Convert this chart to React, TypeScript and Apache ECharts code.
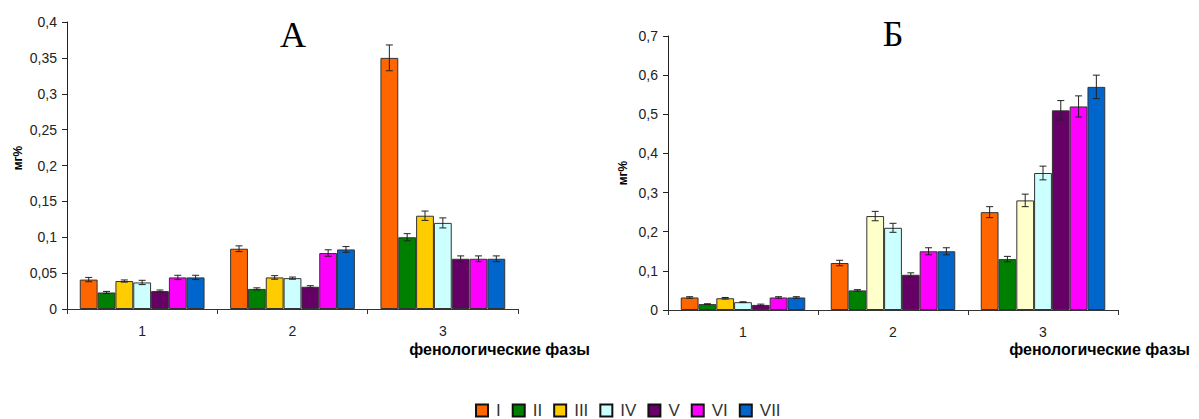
import React, { useEffect, useRef } from "react";
import * as echarts from "echarts";

// Phenological phases on the category axis
const phases = ["1", "2", "3"];
const seriesNames = ["I", "II", "III", "IV", "V", "VI", "VII"];
const seriesColors = ["#FF6600", "#008000", "#FFCC00", "#CCFFFF", "#660066", "#FF00FF", "#0066CC"];
// Pale fill used for series III in phases 2 and 3 of panel Б
const paleIII = "#FFFFCC";

// Panel А: content, mg% (one array per variant, values by phase)
const aI = [0.041, 0.084, 0.35];
const aII = [0.023, 0.028, 0.1];
const aIII = [0.039, 0.044, 0.13];
const aIV = [0.037, 0.043, 0.12];
const aV = [0.025, 0.031, 0.07];
const aVI = [0.044, 0.078, 0.07];
const aVII = [0.044, 0.083, 0.07];
// Panel А: error margins
const aErrI = [0.003, 0.004, 0.018];
const aErrII = [0.0015, 0.0015, 0.005];
const aErrIII = [0.0015, 0.0025, 0.0065];
const aErrIV = [0.003, 0.0015, 0.007];
const aErrV = [0.0015, 0.0015, 0.004];
const aErrVI = [0.003, 0.0045, 0.004];
const aErrVII = [0.003, 0.004, 0.004];

// Panel Б: content, mg%
const bI = [0.032, 0.12, 0.25];
const bII = [0.015, 0.05, 0.13];
const bIII = [0.03, 0.24, 0.28];
const bIV = [0.02, 0.21, 0.35];
const bV = [0.013, 0.09, 0.51];
const bVI = [0.032, 0.15, 0.52];
const bVII = [0.032, 0.15, 0.57];
// Panel Б: error margins
const bErrI = [0.002, 0.007, 0.014];
const bErrII = [0.001, 0.002, 0.007];
const bErrIII = [0.002, 0.012, 0.016];
const bErrIV = [0.001, 0.0115, 0.0175];
const bErrV = [0.002, 0.005, 0.025];
const bErrVI = [0.002, 0.009, 0.027];
const bErrVII = [0.002, 0.009, 0.03];

// Y-axis ticks
const aTicks = { min: 0, max: 0.4, interval: 0.05 };
const bTicks = { min: 0, max: 0.7, interval: 0.1 };

const aValues = [aI, aII, aIII, aIV, aV, aVI, aVII];
const aErrors = [aErrI, aErrII, aErrIII, aErrIV, aErrV, aErrVI, aErrVII];
const bValues = [bI, bII, bIII, bIV, bV, bVI, bVII];
const bErrors = [bErrI, bErrII, bErrIII, bErrIV, bErrV, bErrVI, bErrVII];

const CAT_GAP = 0.17;
const FONT = "Arial, 'Liberation Sans', sans-serif";

const fmt = (v: number) => String(+v.toFixed(2)).replace(".", ",");

function buildSeries(panel: number, values: number[][], errors: number[][]) {
  const out: any[] = [];
  values.forEach((vals, i) => {
    out.push({
      type: "bar",
      name: seriesNames[i],
      xAxisIndex: panel,
      yAxisIndex: panel,
      barGap: "0%",
      barCategoryGap: `${CAT_GAP * 100}%`,
      itemStyle: { color: seriesColors[i], borderColor: "#333", borderWidth: 1 },
      data: vals.map((v, k) =>
        panel === 1 && i === 2 && k > 0 ? { value: v, itemStyle: { color: paleIII } } : v
      ),
    });
  });
  values.forEach((vals, i) => {
    out.push({
      type: "custom",
      name: `err-${panel}-${seriesNames[i]}`,
      xAxisIndex: panel,
      yAxisIndex: panel,
      z: 5,
      silent: true,
      encode: { x: 0, y: 1 },
      data: vals.map((v, k) => [k, v, errors[i][k]]),
      renderItem: (params: any, api: any) => {
        const cat = api.value(0);
        const v = api.value(1);
        const e = api.value(2);
        const band = api.size([1, 0])[0];
        const groupW = band * (1 - CAT_GAP);
        const bw = groupW / values.length;
        const cx = api.coord([cat, v])[0] - groupW / 2 + bw * (i + 0.5);
        const yTop = api.coord([cat, v + e])[1];
        const yBot = api.coord([cat, v - e])[1];
        const cap = 3.5;
        const style = { stroke: "#222", lineWidth: 1 };
        return {
          type: "group",
          children: [
            { type: "line", shape: { x1: cx, y1: yTop, x2: cx, y2: yBot }, style },
            { type: "line", shape: { x1: cx - cap, y1: yTop, x2: cx + cap, y2: yTop }, style },
            { type: "line", shape: { x1: cx - cap, y1: yBot, x2: cx + cap, y2: yBot }, style },
          ],
        };
      },
    });
  });
  return out;
}

function xAxis(gridIndex: number) {
  return {
    type: "category",
    gridIndex,
    data: phases,
    axisLine: { lineStyle: { color: "#333", width: 1 } },
    axisTick: { show: true, length: 5, lineStyle: { color: "#333" } },
    axisLabel: { color: "#222", fontSize: 14, fontFamily: FONT, margin: 15 },
  };
}

function yAxis(gridIndex: number, t: { min: number; max: number; interval: number }) {
  return {
    type: "value",
    gridIndex,
    min: t.min,
    max: t.max,
    interval: t.interval,
    splitLine: { show: false },
    axisLine: { show: true, lineStyle: { color: "#222", width: 1 } },
    axisTick: { show: true, length: 5, lineStyle: { color: "#222" } },
    axisLabel: { color: "#222", fontSize: 14, fontFamily: FONT, margin: 10, formatter: fmt },
  };
}

export default function App() {
  const ref = useRef<HTMLDivElement>(null);

  useEffect(() => {
    if (!ref.current) return;
    const chart = echarts.init(ref.current, null, { renderer: "svg" });
    chart.setOption({
      animation: false,
      backgroundColor: "#fff",
      grid: [
        { left: 67, top: 22, width: 451, height: 287 },
        { left: 668, top: 36, width: 450, height: 274 },
      ],
      xAxis: [xAxis(0), xAxis(1)],
      yAxis: [yAxis(0, aTicks), yAxis(1, bTicks)],
      legend: {
        data: seriesNames,
        left: 475,
        top: 402,
        padding: 0,
        itemWidth: 12,
        itemHeight: 12,
        itemGap: 11,
        icon: "rect",
        itemStyle: { borderColor: "#111", borderWidth: 2 },
        textStyle: { color: "#333", fontSize: 17, fontFamily: FONT, padding: [0, 0, 0, 3] },
        selectedMode: false,
      },
      graphic: [
        {
          type: "text",
          x: 293,
          y: 34.5,
          style: { text: "А", font: "36px 'Liberation Serif', 'Times New Roman', serif", fill: "#000", align: "center", verticalAlign: "middle" },
        },
        {
          type: "text",
          x: 893,
          y: 33.5,
          style: { text: "Б", font: "36px 'Liberation Serif', 'Times New Roman', serif", fill: "#000", align: "center", verticalAlign: "middle" },
        },
        {
          type: "text",
          x: 18,
          y: 158,
          rotation: Math.PI / 2,
          style: { text: "мг%", font: `bold 12px ${FONT}`, fill: "#000", align: "center", verticalAlign: "middle" },
        },
        {
          type: "text",
          x: 623,
          y: 173,
          rotation: Math.PI / 2,
          style: { text: "мг%", font: `bold 12px ${FONT}`, fill: "#000", align: "center", verticalAlign: "middle" },
        },
        {
          type: "text",
          x: 590,
          y: 349,
          style: { text: "фенологические фазы", font: `bold 16px ${FONT}`, fill: "#000", align: "right", verticalAlign: "middle" },
        },
        {
          type: "text",
          x: 1190,
          y: 349,
          style: { text: "фенологические фазы", font: `bold 16px ${FONT}`, fill: "#000", align: "right", verticalAlign: "middle" },
        },
      ],
      series: [...buildSeries(0, aValues, aErrors), ...buildSeries(1, bValues, bErrors)],
    });
    return () => chart.dispose();
  }, []);

  return (
    <div style={{ position: "absolute", left: 0, top: 0, width: 1199, height: 419 }}>
      <div ref={ref} style={{ width: 1199, height: 419 }} />
    </div>
  );
}
